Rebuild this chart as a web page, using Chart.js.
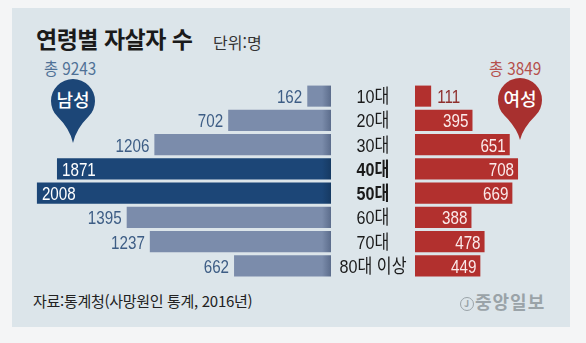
<!DOCTYPE html>
<html lang="ko">
<head>
<meta charset="UTF-8">
<title>연령별 자살자 수</title>
<script src="https://cdn.jsdelivr.net/npm/chart.js"></script>
<style>
    body { margin: 0; width: 586px; height: 343px; background: #f4f5f6; overflow: hidden;
           font-family: 'Noto Sans CJK KR', 'Noto Sans', sans-serif; }
    .panel { position: absolute; left: 12px; top: 8px; width: 558px; height: 319px; background: #dce5ea; }
    .abs { position: absolute; white-space: nowrap; }
    .title { left: 36px; top: 21px; font-size: 23px; font-weight: 700; color: #1a1a1a; letter-spacing: -0.5px; }
    .unit { left: 213px; top: 30px; font-size: 16px; color: #333; }
    .total { font-size: 17px; top: 55px; transform-origin: left center; transform: scaleX(0.9); }
    .source { left: 33px; top: 290px; font-size: 15px; color: #222; letter-spacing: -0.3px; }
    .logo { left: 460px; top: 288px; font-size: 18px; color: #9aa3a8; font-weight: 700; letter-spacing: 1px; }
    canvas { position: absolute; }
</style>
</head>
<body>
<div class="panel"></div>
<div class="abs title">연령별 자살자 수</div>
<div class="abs unit">단위:명</div>
<div class="abs total" id="maleTotal" style="left:44px;color:#4f7196"></div>
<div class="abs total" id="femaleTotal" style="left:489px;color:#b5504c"></div>

<svg class="abs" style="left:0;top:0" width="586" height="343">
    <path id="pinM" fill="#1c4677"/>
    <text x="73" y="107" fill="#fff" font-size="18" font-weight="500" text-anchor="middle">남성</text>
    <path id="pinF" fill="#a8302f"/>
    <text x="520" y="106" fill="#fff" font-size="18" font-weight="500" text-anchor="middle">여성</text>
</svg>

<canvas id="maleChart" style="left:0;top:84px" width="331" height="194"></canvas>
<canvas id="femaleChart" style="left:331px;top:84px" width="255" height="194"></canvas>

<div class="abs source">자료:통계청(사망원인 통계, 2016년)</div>
<div class="abs logo"><span style="display:inline-block;width:12px;height:12px;border:1.5px solid #9aa3a8;border-radius:50%;font-size:9px;line-height:12px;text-align:center;vertical-align:2px;margin-right:1px">J</span>중앙일보</div>

<script>
const categories = ['10대', '20대', '30대', '40대', '50대', '60대', '70대', '80대 이상'];
const maleValues = [162, 702, 1206, 1871, 2008, 1395, 1237, 662];
const femaleValues = [111, 395, 651, 708, 669, 388, 478, 449];
const highlightRows = ['40대', '50대'];
const maleTotal = 9243;
const femaleTotal = 3849;

document.getElementById('maleTotal').textContent = '총 ' + maleTotal;
document.getElementById('femaleTotal').textContent = '총 ' + femaleTotal;

// map pin: circle + pointed tail
function pinPath(cx, cy, r, tipY) {
    const a = Math.PI / 4;
    const lx = cx - r * Math.cos(a), ly = cy + r * Math.sin(a);
    const rx = cx + r * Math.cos(a);
    return `M${lx},${ly} Q${cx - 3},${cy + r + 6} ${cx},${tipY} Q${cx + 3},${cy + r + 6} ${rx},${ly} A${r},${r} 0 1 0 ${lx},${ly} Z`;
}
document.getElementById('pinM').setAttribute('d', pinPath(73, 101, 22, 143));
document.getElementById('pinF').setAttribute('d', pinPath(520, 100, 22, 140));

const NUM_FONT = '19px "Liberation Sans", Arial, sans-serif';

function condensedText(ctx, text, x, y, align, color, font, sx) {
    ctx.save();
    ctx.translate(x, y);
    ctx.scale(sx, 1);
    ctx.font = font;
    ctx.fillStyle = color;
    ctx.textAlign = align;
    ctx.textBaseline = 'alphabetic';
    ctx.fillText(text, 0, 0);
    ctx.restore();
}

const maleLabels = {
    id: 'maleLabels',
    afterDatasetsDraw(chart) {
        const ctx = chart.ctx;
        chart.getDatasetMeta(0).data.forEach((bar, i) => {
            const hl = highlightRows.includes(categories[i]);
            const y = bar.y + 7;
            if (hl) condensedText(ctx, String(maleValues[i]), bar.x + 5, y, 'left', '#ffffff', NUM_FONT, 0.8);
            else condensedText(ctx, String(maleValues[i]), bar.x - 5, y, 'right', '#3d5d85', NUM_FONT, 0.8);
        });
    }
};

const femaleLabels = {
    id: 'femaleLabels',
    afterDatasetsDraw(chart) {
        const ctx = chart.ctx;
        const area = chart.chartArea;
        chart.getDatasetMeta(0).data.forEach((bar, i) => {
            const y = bar.y + 7;
            const txt = String(femaleValues[i]);
            if (bar.x - area.left < 30) condensedText(ctx, txt, bar.x + 6, y, 'left', '#8e2e2c', NUM_FONT, 0.8);
            else condensedText(ctx, txt, bar.x - 4, y, 'right', '#fbeaea', NUM_FONT, 0.8);
            // category label in the gap between both charts
            const hl = highlightRows.includes(categories[i]);
            const catFont = (hl ? 'bold ' : '') + '19px "Liberation Sans", "Noto Sans CJK KR", sans-serif';
            condensedText(ctx, categories[i], area.left - 42, y, 'center', '#1a1a1a', catFont, 0.85);
        });
    }
};

function maleColor(c) {
    const area = c.chart.chartArea;
    if (!area) return '#7b8cab';
    const hl = highlightRows.includes(categories[c.dataIndex]);
    const g = c.chart.ctx.createLinearGradient(area.right - 9, 0, area.right, 0);
    g.addColorStop(0, hl ? '#1c4677' : '#7b8cab');
    g.addColorStop(1, hl ? '#163a63' : '#5c6d8c');
    return g;
}

const baseOptions = {
    indexAxis: 'y',
    responsive: false,
    animation: false,
    plugins: { legend: { display: false }, tooltip: { enabled: false } }
};

new Chart(document.getElementById('maleChart'), {
    type: 'bar',
    data: {
        labels: categories,
        datasets: [{
            data: maleValues,
            backgroundColor: maleColor,
            categoryPercentage: 0.87,
            barPercentage: 1
        }]
    },
    options: Object.assign({}, baseOptions, {
        layout: { padding: 0 },
        scales: {
            x: { reverse: true, min: 0, max: 2260, display: false },
            y: { display: false }
        }
    }),
    plugins: [maleLabels]
});

new Chart(document.getElementById('femaleChart'), {
    type: 'bar',
    data: {
        labels: categories,
        datasets: [{
            data: femaleValues,
            backgroundColor: '#b2302e',
            categoryPercentage: 0.87,
            barPercentage: 1
        }]
    },
    options: Object.assign({}, baseOptions, {
        layout: { padding: { left: 84, right: 0, top: 0, bottom: 0 } },
        scales: {
            x: { min: 0, max: 1175, display: false },
            y: { display: false }
        }
    }),
    plugins: [femaleLabels]
});
</script>
</body>
</html>
